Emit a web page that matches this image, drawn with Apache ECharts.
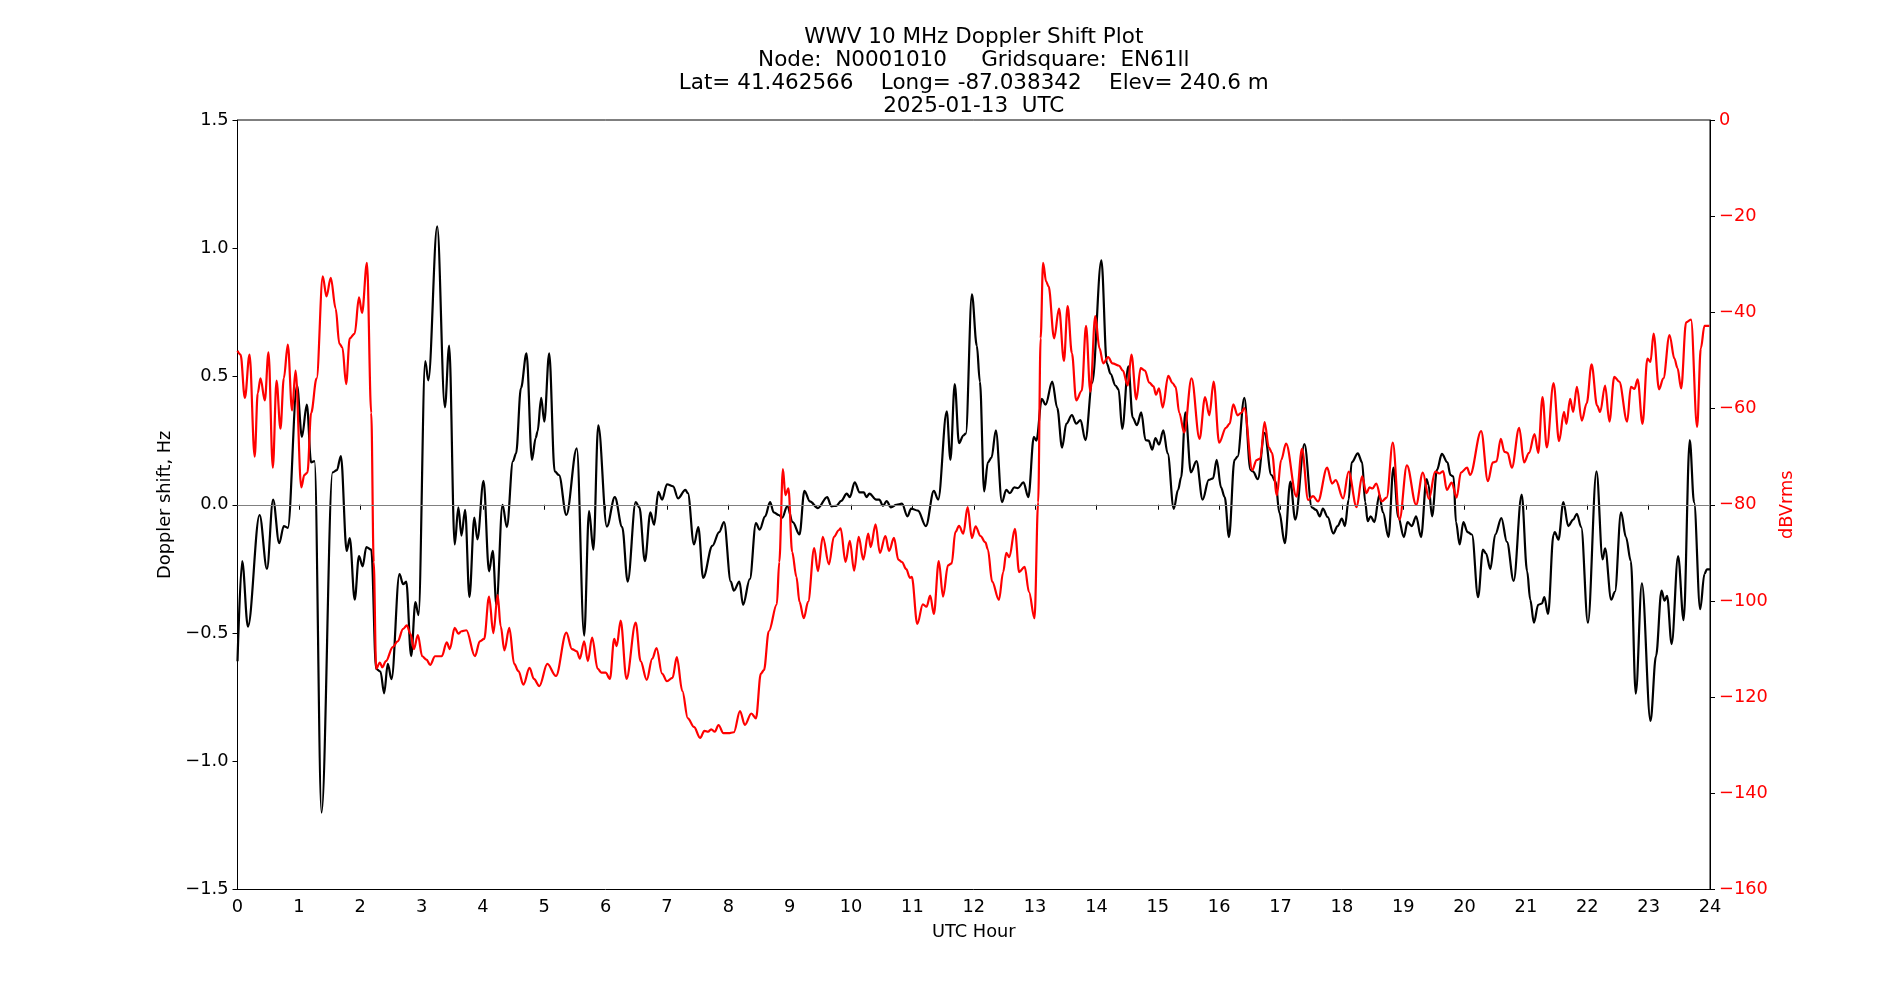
<!DOCTYPE html>
<html>
<head>
<meta charset="utf-8">
<title>WWV 10 MHz Doppler Shift Plot</title>
<script src="https://cdn.jsdelivr.net/npm/echarts@6/dist/echarts.min.js"></script>
<style>
  html, body { margin: 0; padding: 0; background: #fff; }
  #chart { width: 1900px; height: 1000px; }
</style>
</head>
<body>
<div id="chart"></div>
<script>
// Doppler shift (Hz), black trace
var blackHours = [0, 0.076, 0.17, 0.36, 0.48, 0.58, 0.68, 0.755, 0.82, 0.97, 1.05, 1.13, 1.20, 1.255, 1.37, 1.55, 1.62, 1.685, 1.78, 1.83,
  1.91, 1.98, 2.04, 2.10, 2.18, 2.26, 2.33, 2.39, 2.45, 2.51, 2.64, 2.70, 2.75, 2.83, 2.90, 2.95, 3.06, 3.11, 3.255, 3.38,
  3.45, 3.54, 3.60, 3.65, 3.71, 3.78, 3.86, 3.91, 4.01, 4.10, 4.16, 4.22, 4.32, 4.39, 4.49, 4.54, 4.62, 4.71, 4.80, 4.86,
  4.89, 4.95, 5.0, 5.08, 5.17, 5.24, 5.36, 5.53, 5.65, 5.73, 5.80, 5.88, 6.02, 6.15, 6.27, 6.36, 6.49, 6.55, 6.64, 6.73,
  6.79, 6.86, 6.92, 7.0, 7.10, 7.18, 7.30, 7.34, 7.44, 7.51, 7.59, 7.74, 7.85, 7.93, 8.04, 8.09, 8.18, 8.24, 8.35, 8.45,
  8.51, 8.60, 8.68, 8.74, 8.82, 8.88, 8.96, 9.05, 9.16, 9.24, 9.33, 9.46, 9.61, 9.68, 9.76, 9.84, 9.93, 9.98, 10.06, 10.14,
  10.21, 10.25, 10.30, 10.41, 10.46, 10.52, 10.58, 10.65, 10.74, 10.83, 10.92, 10.98, 11.09, 11.22, 11.35, 11.42, 11.56, 11.62, 11.69, 11.76,
  11.83, 11.87, 11.97, 12.05, 12.10, 12.17, 12.23, 12.29, 12.36, 12.46, 12.53, 12.59, 12.66, 12.72, 12.81, 12.89, 12.98, 13.02, 13.11, 13.17,
  13.28, 13.36, 13.44, 13.51, 13.60, 13.67, 13.74, 13.82, 13.93, 14.08, 14.17, 14.23, 14.31, 14.36, 14.42, 14.52, 14.59, 14.66, 14.73, 14.80,
  14.85, 14.91, 14.96, 15.02, 15.09, 15.16, 15.26, 15.33, 15.38, 15.45, 15.54, 15.63, 15.73, 15.83, 15.90, 15.96, 16.03, 16.09, 16.16, 16.25,
  16.30, 16.41, 16.51, 16.55, 16.63, 16.74, 16.85, 16.92, 16.98, 17.07, 17.16, 17.24, 17.39, 17.51, 17.58, 17.64, 17.69, 17.77, 17.86, 17.93,
  18.0, 18.05, 18.11, 18.16, 18.26, 18.33, 18.38, 18.42, 18.47, 18.53, 18.61, 18.67, 18.76, 18.84, 18.92, 19.01, 19.07, 19.14, 19.21, 19.29,
  19.38, 19.41, 19.47, 19.55, 19.63, 19.72, 19.77, 19.82, 19.86, 19.92, 19.98, 20.05, 20.12, 20.22, 20.30, 20.35, 20.42, 20.50, 20.60, 20.69,
  20.80, 20.93, 21.02, 21.07, 21.13, 21.20, 21.26, 21.30, 21.36, 21.45, 21.47, 21.53, 21.61, 21.69, 21.77, 21.83, 21.90, 22.01, 22.15, 22.25,
  22.29, 22.39, 22.45, 22.55, 22.63, 22.71, 22.79, 22.89, 23.03, 23.12, 23.21, 23.26, 23.30, 23.375, 23.48, 23.57, 23.67, 23.74, 23.84, 23.91,
  23.95, 24.0];
var blackShift = [-0.61, -0.22, -0.475, -0.04, -0.25, 0.02, -0.15, -0.083, -0.09, 0.465, 0.265, 0.39, 0.165, 0.17, -1.20, 0.126, 0.135, 0.19, -0.18, -0.13,
  -0.37, -0.20, -0.24, -0.165, -0.175, -0.64, -0.65, -0.735, -0.62, -0.68, -0.27, -0.31, -0.30, -0.59, -0.38, -0.43, 0.56, 0.485, 1.085, 0.38,
  0.62, -0.155, -0.01, -0.12, -0.02, -0.36, -0.05, -0.135, 0.093, -0.26, -0.18, -0.39, 0, -0.087, 0.17, 0.2, 0.455, 0.59, 0.175, 0.26,
  0.285, 0.417, 0.324, 0.59, 0.13, 0.116, -0.04, 0.22, -0.51, -0.025, -0.175, 0.31, -0.085, 0.03, -0.087, -0.30, 0.01, -0.01, -0.22, -0.03,
  -0.078, 0.05, 0.02, 0.08, 0.072, 0.025, 0.058, 0.045, -0.155, -0.087, -0.285, -0.16, -0.107, -0.068, -0.30, -0.335, -0.30, -0.39, -0.29, -0.072,
  -0.097, -0.045, 0.01, -0.03, -0.04, -0.05, -0.005, -0.068, -0.116, 0.054, 0.013, -0.013, 0.03, -0.006, -0.004, 0.015, 0.043, 0.03, 0.087, 0.048,
  0.048, 0.03, 0.043, 0.02, 0.02, -0.004, 0.014, -0.01, 0, 0.004, -0.045, -0.015, -0.023, -0.083, 0.054, 0.02, 0.364, 0.175, 0.47, 0.24,
  0.27, 0.277, 0.82, 0.62, 0.48, 0.052, 0.165, 0.184, 0.29, 0.01, 0.058, 0.045, 0.068, 0.065, 0.087, 0.03, 0.265, 0.25, 0.413, 0.39,
  0.48, 0.378, 0.223, 0.316, 0.35, 0.316, 0.33, 0.252, 0.475, 0.953, 0.55, 0.51, 0.465, 0.45, 0.296, 0.54, 0.34, 0.31, 0.36, 0.252,
  0.25, 0.215, 0.26, 0.235, 0.29, 0.2, -0.016, 0.058, 0.107, 0.36, 0.126, 0.17, 0.02, 0.097, 0.103, 0.175, 0.068, 0.03, -0.126, 0.175,
  0.188, 0.417, 0.136, 0.13, 0.10, 0.28, 0.116, 0.09, -0.03, -0.15, 0.09, -0.058, 0.236, -0.01, -0.02, -0.045, -0.015, -0.048, -0.112, -0.083,
  -0.054, -0.083, 0.02, 0.165, 0.2, 0.165, 0.01, -0.064, -0.045, -0.068, 0.039, -0.03, -0.126, 0.145, -0.048, -0.126, -0.068, -0.083, -0.045, -0.126,
  0.10, 0.08, -0.045, 0.136, 0.198, 0.165, 0.116, 0.11, -0.068, -0.155, -0.068, -0.107, -0.116, -0.36, -0.175, -0.19, -0.25, -0.116, -0.052, -0.145,
  -0.297, 0.04, -0.26, -0.37, -0.46, -0.39, -0.385, -0.36, -0.426, -0.116, -0.107, -0.136, 0.01, -0.083, -0.058, -0.035, -0.087, -0.46, 0.13, -0.213,
  -0.17, -0.37, -0.34, -0.03, -0.126, -0.22, -0.736, -0.306, -0.843, -0.59, -0.335, -0.374, -0.355, -0.543, -0.2, -0.45, 0.252, 0.01, -0.407, -0.27,
  -0.252, -0.252];

// received level (dBVrms), red trace
var redHours = [0, 0.05, 0.12, 0.196, 0.28, 0.33, 0.375, 0.445, 0.505, 0.576, 0.636, 0.70, 0.755, 0.82, 0.89, 0.946, 1.04, 1.09, 1.14, 1.20,
  1.29, 1.39, 1.45, 1.52, 1.60, 1.66, 1.71, 1.77, 1.83, 1.91, 1.98, 2.03, 2.11, 2.18, 2.22, 2.26, 2.32, 2.36, 2.42, 2.53,
  2.61, 2.70, 2.76, 2.82, 2.875, 2.94, 3.01, 3.08, 3.14, 3.22, 3.33, 3.41, 3.46, 3.54, 3.60, 3.65, 3.73, 3.87, 3.95, 4.02,
  4.10, 4.17, 4.24, 4.29, 4.35, 4.43, 4.51, 4.58, 4.66, 4.76, 4.83, 4.92, 5.05, 5.19, 5.36, 5.45, 5.53, 5.58, 5.65, 5.71,
  5.78, 5.87, 5.93, 6.0, 6.07, 6.14, 6.18, 6.245, 6.34, 6.49, 6.57, 6.67, 6.76, 6.83, 6.92, 7.0, 7.09, 7.16, 7.25, 7.34,
  7.44, 7.54, 7.61, 7.67, 7.72, 7.78, 7.84, 7.92, 8.0, 8.09, 8.19, 8.27, 8.375, 8.45, 8.53, 8.58, 8.66, 8.79, 8.83, 8.89,
  8.93, 8.98, 9.04, 9.11, 9.16, 9.23, 9.30, 9.40, 9.46, 9.54, 9.64, 9.72, 9.80, 9.83, 9.91, 9.98, 10.05, 10.125, 10.20, 10.28,
  10.32, 10.40, 10.47, 10.56, 10.62, 10.70, 10.77, 10.83, 10.90, 10.96, 10.99, 11.08, 11.17, 11.23, 11.29, 11.35, 11.43, 11.50, 11.58, 11.64,
  11.70, 11.76, 11.83, 11.90, 11.97, 12.03, 12.11, 12.19, 12.23, 12.30, 12.41, 12.48, 12.53, 12.58, 12.67, 12.74, 12.83, 12.90, 12.99, 13.05,
  13.09, 13.13, 13.18, 13.22, 13.31, 13.39, 13.47, 13.53, 13.60, 13.67, 13.76, 13.83, 13.90, 13.98, 14.05, 14.11, 14.19, 14.26, 14.37, 14.43,
  14.51, 14.57, 14.65, 14.72, 14.79, 14.86, 14.93, 14.97, 15.02, 15.08, 15.17, 15.24, 15.29, 15.35, 15.43, 15.55, 15.68, 15.77, 15.84, 15.91,
  16.0, 16.11, 16.17, 16.23, 16.30, 16.36, 16.41, 16.54, 16.61, 16.67, 16.74, 16.81, 16.86, 16.94, 17.01, 17.09, 17.26, 17.35, 17.45, 17.53,
  17.61, 17.76, 17.84, 17.90, 18.02, 18.11, 18.24, 18.33, 18.40, 18.45, 18.50, 18.56, 18.65, 18.73, 18.83, 18.94, 19.06, 19.21, 19.32, 19.42,
  19.52, 19.59, 19.65, 19.71, 19.79, 19.87, 19.94, 20.04, 20.09, 20.27, 20.38, 20.46, 20.52, 20.59, 20.65, 20.70, 20.77, 20.89, 20.97, 21.05,
  21.14, 21.20, 21.27, 21.34, 21.45, 21.54, 21.62, 21.66, 21.72, 21.77, 21.83, 21.91, 21.99, 22.07, 22.16, 22.21, 22.29, 22.36, 22.44, 22.52,
  22.65, 22.71, 22.77, 22.82, 22.90, 22.98, 23.03, 23.08, 23.17, 23.24, 23.34, 23.42, 23.47, 23.53, 23.61, 23.69, 23.79, 23.85, 23.91, 23.99];
var redLevel = [-48.0, -48.8, -57.8, -48.8, -70, -56.8, -53.7, -58.3, -48.3, -72.3, -54.2, -64.2, -53.7, -46.7, -60.4, -52.1, -76.4, -73.8, -73.3, -60.9,
  -53.7, -32.5, -36.7, -32.8, -39.2, -46.5, -47.3, -54.9, -45.4, -44.4, -36.9, -40.1, -29.7, -60.9, -91.9, -114.1, -112.8, -113.8, -112.5, -109.6,
  -108.4, -105.8, -105.1, -106.9, -110, -107.1, -111.5, -112.2, -113.3, -111.5, -111.5, -108.6, -110, -105.6, -106.8, -106.3, -106.1, -111.5, -108.4, -107.9,
  -99.1, -106.7, -98.8, -105.3, -110.3, -105.6, -113.1, -114.6, -117.4, -113.9, -116.2, -117.7, -113.1, -115.6, -106.6, -110, -110.5, -112, -108.4, -112.5,
  -107.6, -114.1, -114.9, -114.9, -116.2, -107.9, -109.4, -104.1, -116.2, -104.5, -112.5, -116.4, -112, -109.8, -115.1, -116.7, -116, -111.7, -118.7, -124.4,
  -126.2, -128.5, -127, -127.2, -126.7, -127.2, -125.8, -127.5, -127.5, -127.3, -122.9, -125.8, -123.4, -124.4, -115.1, -114.4, -106.3, -100.7, -91.9, -72.6,
  -78, -76.6, -89.8, -95, -100.2, -103.6, -100.2, -89, -93.8, -86.7, -92.4, -86.7, -85.3, -84.9, -91.9, -87.5, -93.7, -86.7, -91.4, -86,
  -88.8, -84.1, -90, -86.5, -89.6, -86.9, -91.4, -91.9, -93.4, -95.2, -95, -104.8, -100.7, -101.2, -98.9, -102.7, -91.7, -99.1, -92.6, -92.2,
  -85.7, -84.4, -86, -80.5, -86.9, -84.5, -86.5, -87.8, -89.3, -96, -99.8, -94, -90, -90.9, -85, -94, -92.9, -98.1, -103.6, -79.5,
  -45.4, -29.7, -33.6, -34.6, -45.4, -39.2, -50.1, -38.7, -48.5, -58.3, -56.3, -42.8, -56.5, -40.8, -47.5, -50.6, -49.3, -50.6, -51.1, -52.1,
  -55.2, -48.8, -58.1, -51.6, -52.1, -54.6, -55.4, -57.1, -55.8, -59.8, -53.2, -54.7, -55.5, -60.9, -65, -53.7, -66.3, -57.6, -61.4, -54.4,
  -67.1, -64, -63.2, -59.1, -61.4, -60.9, -59.9, -72.8, -70.7, -70.4, -62.8, -68.1, -69.2, -78, -70.7, -67.3, -78.3, -68.4, -79, -78.2,
  -79.3, -72.3, -75.6, -74.9, -78.7, -73.1, -80.5, -74.1, -77.6, -76.4, -76.6, -75.6, -79.3, -78.5, -67.1, -83.1, -71.8, -80, -73.3, -78.8,
  -73.1, -73.5, -73, -76.9, -75.4, -78.5, -73.3, -72.3, -73.8, -64.7, -75.1, -71.2, -71, -66.3, -69, -69.2, -72.3, -64, -71.2, -69.2,
  -65.3, -69.2, -57.6, -68.1, -54.7, -66.8, -60.7, -63.2, -58, -60.7, -55.5, -62.5, -58.9, -50.8, -59.4, -60.7, -55.2, -62.7, -53.4, -54.4,
  -62.7, -55.5, -55.9, -53.9, -63.2, -49.6, -50.3, -44.4, -56, -53.7, -44.7, -49.6, -51.6, -55.8, -42.1, -41.5, -63.8, -47.5, -42.8, -42.8];

var titleLines = [
  'WWV 10 MHz Doppler Shift Plot',
  'Node:  N0001010     Gridsquare:  EN61ll',
  'Lat= 41.462566    Long= -87.038342    Elev= 240.6 m',
  '2025-01-13  UTC'
];

function zip(xs, ys) {
  return xs.map(function (x, i) { return [x, ys[i]]; });
}
function uminus(s) {
  return String(s).replace('-', '\u2212');
}

var font = 'DejaVu Sans';
var fs = 17.8;
var chart = echarts.init(document.getElementById('chart'), null, { renderer: 'canvas' });

chart.setOption({
  animation: false,
  backgroundColor: '#fff',
  textStyle: { fontFamily: font },
  graphic: [{
    type: 'text',
    x: 973.75,
    y: 26,
    style: {
      text: titleLines.join('\n'),
      fill: '#000',
      font: '21.5px "DejaVu Sans"',
      align: 'center',
      verticalAlign: 'top',
      lineHeight: 23
    }
  }],
  grid: {
    left: 237.5, right: 190, top: 120, bottom: 110.5,
    show: true, borderColor: '#000', borderWidth: 1, backgroundColor: 'transparent'
  },
  xAxis: {
    type: 'value', min: 0, max: 24, interval: 1,
    name: 'UTC Hour', nameLocation: 'middle', nameGap: 34,
    nameTextStyle: { color: '#000', fontSize: fs, fontFamily: font },
    axisLine: { lineStyle: { color: '#000', width: 1 } },
    axisTick: { inside: false, length: 5, lineStyle: { color: '#000' } },
    axisLabel: { color: '#000', fontSize: fs, fontFamily: font, margin: 9 },
    splitLine: { show: false }
  },
  yAxis: [{
    type: 'value', min: -1.5, max: 1.5, interval: 0.5, position: 'left',
    name: 'Doppler shift, Hz', nameLocation: 'middle', nameGap: 57, nameRotate: 90,
    nameTextStyle: { color: '#000', fontSize: fs, fontFamily: font },
    axisLine: { show: true, lineStyle: { color: '#000', width: 1 } },
    axisTick: { show: true, inside: false, length: 5, lineStyle: { color: '#000' } },
    axisLabel: { color: '#000', fontSize: fs, fontFamily: font, margin: 9,
      formatter: function (v) { return uminus(v.toFixed(1)); } },
    splitLine: { show: false }
  }, {
    type: 'value', min: -160, max: 0, interval: 20, position: 'right',
    name: 'dBVrms', nameLocation: 'middle', nameGap: 60, nameRotate: 90,
    nameTextStyle: { color: '#ff0000', fontSize: fs, fontFamily: font },
    axisLine: { show: true, lineStyle: { color: '#000', width: 1 } },
    axisTick: { show: true, inside: false, length: 5, lineStyle: { color: '#000' } },
    axisLabel: { color: '#ff0000', fontSize: fs, fontFamily: font, margin: 9,
      formatter: function (v) { return uminus(v); } },
    splitLine: { show: false }
  }],
  series: [{
    name: 'Doppler shift',
    type: 'line',
    yAxisIndex: 0,
    data: zip(blackHours, blackShift),
    showSymbol: false,
    smooth: 0.35,
    smoothMonotone: 'x',
    lineStyle: { color: '#000', width: 2.2 },
    z: 3,
    markLine: {
      silent: true, symbol: 'none', label: { show: false },
      lineStyle: { color: '#808080', width: 1.2, type: 'solid' },
      data: [{ yAxis: 0 }]
    }
  }, {
    name: 'dBVrms',
    type: 'line',
    yAxisIndex: 1,
    data: zip(redHours, redLevel),
    showSymbol: false,
    smooth: 0.35,
    smoothMonotone: 'x',
    lineStyle: { color: '#ff0000', width: 2.2 },
    z: 4
  }]
});
</script>
</body>
</html>
